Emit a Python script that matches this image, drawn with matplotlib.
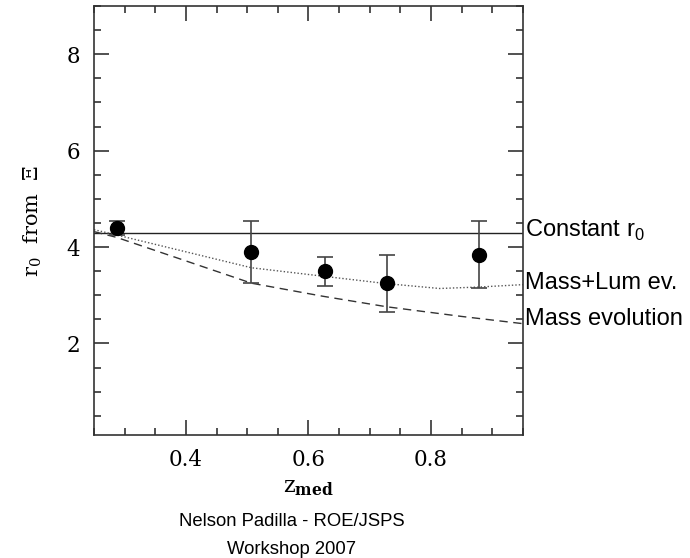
import numpy as np
import matplotlib
matplotlib.use("Agg")
import matplotlib.pyplot as plt
from matplotlib.ticker import MultipleLocator

plt.rcParams['mathtext.fontset'] = 'custom'
plt.rcParams['mathtext.rm'] = 'DejaVu Serif'
plt.rcParams['mathtext.bf'] = 'DejaVu Serif:bold'
plt.rcParams['mathtext.sf'] = 'Liberation Sans'

# measured points
z_pts = [0.287, 0.507, 0.627, 0.728, 0.878]
r0_pts = [4.39, 3.90, 3.50, 3.25, 3.84]
err_lo = [0.15, 0.65, 0.31, 0.60, 0.69]
err_hi = [0.15, 0.64, 0.29, 0.59, 0.70]

# model curves
r0_const = 4.30
z_lum = [0.25, 0.287, 0.507, 0.627, 0.728, 0.814, 0.878, 0.95]
r0_lum = [4.36, 4.25, 3.57, 3.39, 3.24, 3.14, 3.17, 3.22]
z_mass = [0.25, 0.287, 0.507, 0.623, 0.728, 0.85, 0.95]
r0_mass = [4.32, 4.20, 3.25, 2.98, 2.76, 2.56, 2.41]

fig = plt.figure(figsize=(6.9, 5.58), dpi=100)
ax = fig.add_axes([0.1362, 0.2204, 0.6217, 0.7688])

ax.axhline(r0_const, color='#222222', lw=1.0)
ax.plot(z_lum, r0_lum, color='#555555', lw=1.0, linestyle=(0, (1, 1.5)))
ax.plot(z_mass, r0_mass, color='#333333', lw=1.0, linestyle=(0, (6, 4)))
ax.errorbar(z_pts, r0_pts, yerr=[err_lo, err_hi], fmt='o', color='black',
            ecolor='#444444', elinewidth=1.2, capsize=6, capthick=1.2,
            markersize=10, zorder=5)

ax.set_xlim(0.25, 0.95)
ax.set_ylim(0.1, 9)
ax.xaxis.set_minor_locator(MultipleLocator(0.05))
ax.yaxis.set_minor_locator(MultipleLocator(0.5))
ax.set_xticks([0.4, 0.6, 0.8])
ax.set_xticklabels(['0.4', '0.6', '0.8'])
ax.set_yticks([2, 4, 6, 8])
ax.tick_params(which='both', direction='in', top=True, right=True,
               color='#333333', width=1.2)
ax.tick_params(which='major', length=11, labelsize=15.5, pad=10)
ax.tick_params(which='minor', length=5)
for lab in ax.get_xticklabels() + ax.get_yticklabels():
    lab.set_family('DejaVu Serif')
for sp in ax.spines.values():
    sp.set_color('#333333')
    sp.set_linewidth(1.2)

ax.set_xlabel(r'$\mathrm{z}_{\mathbf{med}}$', fontsize=16, labelpad=5)
ax.set_ylabel(r'$\mathrm{r}_0$  from  Ξ', fontsize=15, family='DejaVu Serif',
              labelpad=16)

lab_kw = dict(transform=ax.transData, fontsize=17, family='Liberation Sans',
              va='center', ha='left', clip_on=False)
ax.text(0.953, r0_const + 0.05, r'Constant r$_\mathsf{0}$', **lab_kw)
ax.text(0.953, 3.25, 'Mass+Lum ev.', **lab_kw)
ax.text(0.953, 2.5, 'Mass evolution', **lab_kw)

fig.text(0.423, 1 - 522 / 558, 'Nelson Padilla - ROE/JSPS', ha='center',
         va='center', fontsize=13.3, family='Liberation Sans')
fig.text(0.423, 1 - 550 / 558, 'Workshop 2007', ha='center', va='center',
         fontsize=13.3, family='Liberation Sans')

fig.savefig('out.png', dpi=100)
